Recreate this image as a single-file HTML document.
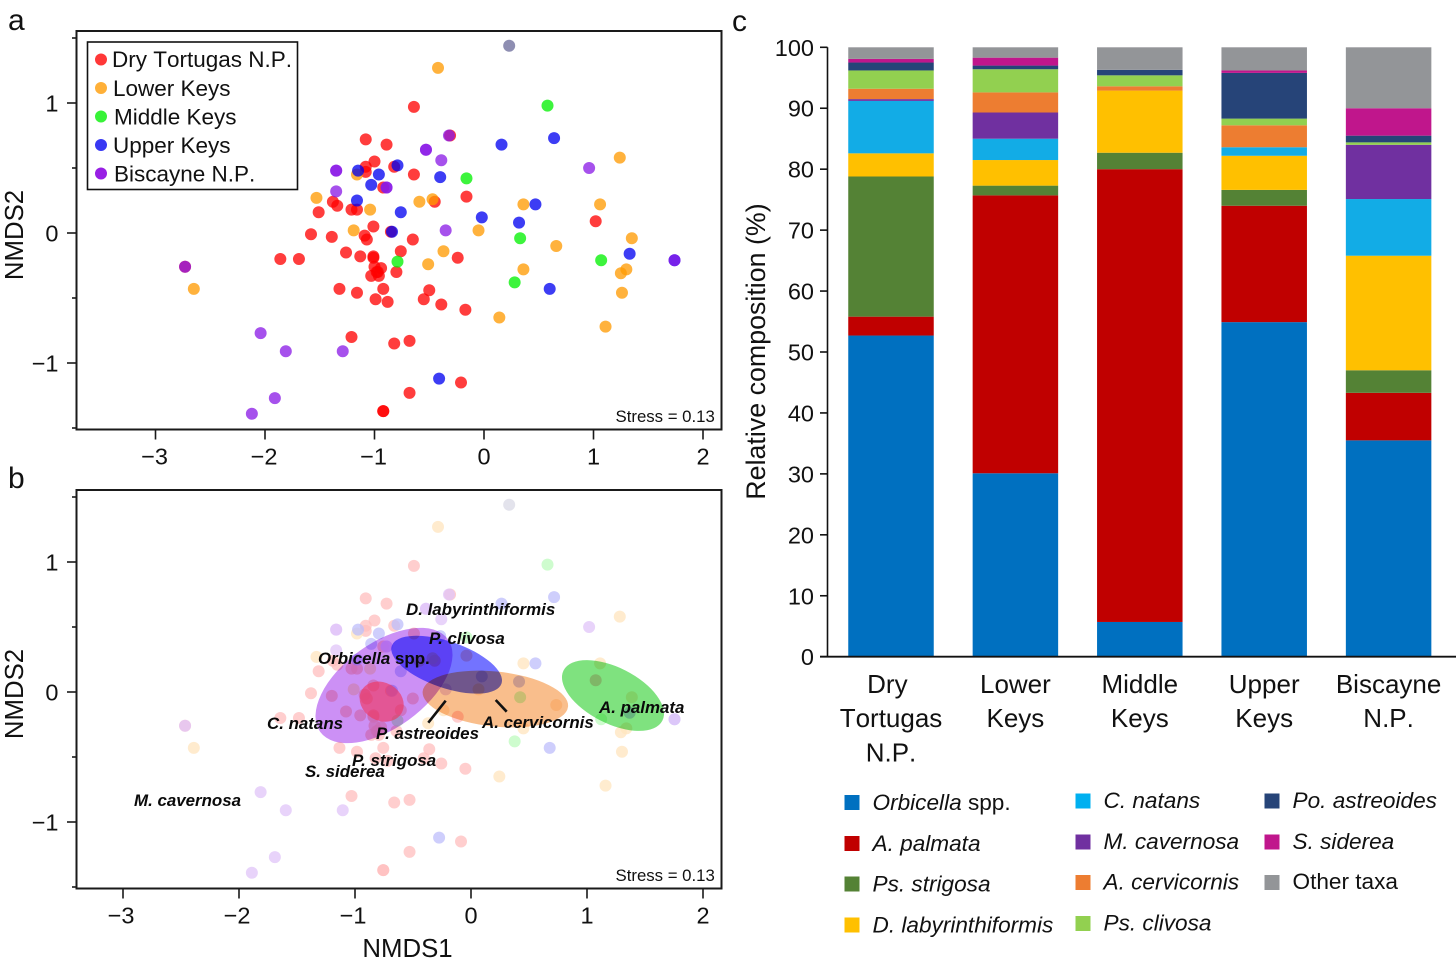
<!DOCTYPE html>
<html lang="en">
<head>
<meta charset="utf-8">
<title>Coral community composition across Florida reef regions</title>
<style>
  html, body { margin: 0; padding: 0; background: #fff; }
  svg { display: block; font-family: "Liberation Sans", Arial, sans-serif; fill: #111; font-kerning: none; }
  .tick { font-size: 23.5px; }
  .title { font-size: 25.8px; }
  .panel { font-size: 30px; }
  .stress { font-size: 16.8px; }
  .sp { font-size: 16.9px; font-weight: bold; font-style: italic; fill: #0a0a0a; font-kerning: normal; }
  .lega { font-size: 22.5px; }
  .legc { font-size: 22.6px; font-style: italic; }
  .cat { font-size: 26px; text-anchor: middle; }
  .up { font-style: normal; }
</style>
</head>
<body>
<svg id="figure" width="1456" height="966" viewBox="0 0 1456 966" xmlns="http://www.w3.org/2000/svg">
  <rect width="1456" height="966" fill="#fff"/>

  <text class="panel" x="8" y="30">a</text>
  <text class="panel" x="8" y="488">b</text>
  <text class="panel" x="732" y="31">c</text>

  <g id="panel-a"></g>
  <g id="panel-b"></g>
  <g id="panel-c"></g>

  <text class="title" transform="translate(23 235) rotate(-90)" text-anchor="middle">NMDS2</text>
  <text class="title" transform="translate(23 694) rotate(-90)" text-anchor="middle">NMDS2</text>
  <text class="title" x="407.5" y="957" text-anchor="middle">NMDS1</text>
  <text class="title" style="font-size:26.8px" transform="translate(765 351.5) rotate(-90)" text-anchor="middle">Relative composition (%)</text>

  <text class="stress" x="615.5" y="422">Stress = 0.13</text>
  <text class="stress" x="615.5" y="881">Stress = 0.13</text>

  <g>
    <rect x="87.5" y="42" width="210" height="147.5" fill="#fff" stroke="#111" stroke-width="1.6"/>
    <g><circle cx="101" cy="59.5" r="6" fill="#ff0000" fill-opacity=".78"/><text class="lega" x="112" y="67">Dry Tortugas N.P.</text></g>
    <g><circle cx="101" cy="88" r="6" fill="#ff9a00" fill-opacity=".78"/><text class="lega" x="113" y="96">Lower Keys</text></g>
    <g><circle cx="101" cy="116.5" r="6" fill="#00f000" fill-opacity=".78"/><text class="lega" x="114" y="124.5">Middle Keys</text></g>
    <g><circle cx="101" cy="145" r="6" fill="#0000f0" fill-opacity=".78"/><text class="lega" x="113" y="153">Upper Keys</text></g>
    <g><circle cx="101" cy="173.5" r="6" fill="#8a00e0" fill-opacity=".88"/><text class="lega" x="114" y="181.5">Biscayne N.P.</text></g>
  </g>

  <g>
    <line x1="445.7" y1="700.7" x2="428.3" y2="722.7" stroke="#111" stroke-width="2.6"/>
    <line x1="495.7" y1="700" x2="506.7" y2="711.7" stroke="#111" stroke-width="2.6"/>
    <text class="sp" x="406" y="615">D. labyrinthiformis</text>
    <text class="sp" x="429" y="644">P. clivosa</text>
    <text class="sp" x="318" y="664">Orbicella <tspan class="up">spp.</tspan></text>
    <text class="sp" x="267" y="729">C. natans</text>
    <text class="sp" x="376" y="739">P. astreoides</text>
    <text class="sp" x="482" y="728">A. cervicornis</text>
    <text class="sp" x="599" y="713">A. palmata</text>
    <text class="sp" x="352" y="766">P. strigosa</text>
    <text class="sp" x="305" y="777">S. siderea</text>
    <text class="sp" x="134" y="806">M. cavernosa</text>
  </g>

  <g>
    <g><rect x="844.5" y="795" width="15" height="15" fill="#0070c0"/><text class="legc" x="872.5" y="810">Orbicella <tspan class="up">spp.</tspan></text></g>
    <g><rect x="844.5" y="836" width="15" height="15" fill="#c00000"/><text class="legc" x="872.5" y="851">A. palmata</text></g>
    <g><rect x="844.5" y="876.5" width="15" height="15" fill="#548235"/><text class="legc" x="872.5" y="891.5">Ps. strigosa</text></g>
    <g><rect x="844.5" y="917.5" width="15" height="15" fill="#ffc000"/><text class="legc" x="872.5" y="932.5">D. labyrinthiformis</text></g>
    <g><rect x="1075.5" y="793.5" width="15" height="15" fill="#00b0f0"/><text class="legc" x="1103.5" y="808">C. natans</text></g>
    <g><rect x="1075.5" y="834.5" width="15" height="15" fill="#7030a0"/><text class="legc" x="1103.5" y="849">M. cavernosa</text></g>
    <g><rect x="1075.5" y="875" width="15" height="15" fill="#ed7d31"/><text class="legc" x="1103.5" y="889.5">A. cervicornis</text></g>
    <g><rect x="1075.5" y="916" width="15" height="15" fill="#92d050"/><text class="legc" x="1103.5" y="930.5">Ps. clivosa</text></g>
    <g><rect x="1264.5" y="793.5" width="15" height="15" fill="#264478"/><text class="legc" x="1292.5" y="808">Po. astreoides</text></g>
    <g><rect x="1264.5" y="834.5" width="15" height="15" fill="#c0168c"/><text class="legc" x="1292.5" y="849">S. siderea</text></g>
    <g><rect x="1264.5" y="875" width="15" height="15" fill="#939598"/><text class="legc up" x="1292.5" y="889">Other taxa</text></g>
  </g>
</svg>

<script>
// ---------- Ordination scores (NMDS1, NMDS2) ----------
const dryTortugasX = [-1.08,-0.89,-1.00,-1.08,-1.08,-0.82,-0.92,-1.38,-1.34,-1.51,-1.21,-1.16,-1.01,-1.58,-1.39,-1.09,-1.07,-0.85,-0.64,-0.31,-0.64,-0.16,-0.45,1.02,-0.65,-0.76,-0.24,-1.26,-1.13,-1.01,-1.01,-1.86,-1.69,-0.80,-1.00,-0.94,-0.98,-0.97,-1.03,-0.96,-1.32,-1.16,-0.92,-0.99,-0.88,-0.50,-0.55,-0.39,-0.17,-1.21,-0.82,-0.68,-0.21,-0.68,-0.92,-0.92,-2.73];
const dryTortugasY = [0.72,0.68,0.55,0.51,0.47,0.51,0.35,0.24,0.21,0.16,0.18,0.18,0.05,-0.01,-0.03,-0.02,-0.05,0.01,0.97,0.75,0.45,0.28,0.24,0.09,-0.05,-0.14,-0.19,-0.15,-0.18,-0.18,-0.19,-0.20,-0.20,-0.30,-0.26,-0.27,-0.30,-0.30,-0.33,-0.33,-0.43,-0.46,-0.43,-0.51,-0.53,-0.44,-0.51,-0.55,-0.59,-0.80,-0.85,-0.83,-1.15,-1.23,-1.37,-1.37,-0.26];
const lowerKeysX = [-0.42,-1.53,-1.16,-1.04,-1.19,1.24,-0.59,-0.47,0.36,1.06,-0.05,1.35,0.66,-0.37,-0.51,0.36,1.30,1.25,1.26,0.14,1.11,-2.65];
const lowerKeysY = [1.27,0.27,0.45,0.18,0.02,0.58,0.24,0.26,0.22,0.22,0.02,-0.04,-0.10,-0.14,-0.24,-0.28,-0.28,-0.31,-0.46,-0.65,-0.72,-0.43];
const middleKeysX = [0.58,-0.16,0.33,1.07,-0.79,0.28];
const middleKeysY = [0.98,0.42,-0.04,-0.21,-0.22,-0.38];
const upperKeysX = [-1.15,-0.96,-1.03,-1.16,-0.76,-0.79,-0.84,0.16,0.64,-0.40,0.47,-0.02,0.32,1.33,0.60,-0.41,1.74];
const upperKeysY = [0.48,0.45,0.37,0.25,0.16,0.52,0.01,0.68,0.73,0.43,0.22,0.12,0.08,-0.16,-0.43,-1.12,-0.21];
const biscayneX = [-1.35,-1.35,-1.35,-0.89,-0.89,-0.53,-0.53,-0.39,-0.32,0.96,-0.35,-2.73,-2.04,-1.81,-1.29,-1.91,-2.12,1.74];
const biscayneY = [0.48,0.48,0.32,0.35,0.35,0.64,0.64,0.56,0.75,0.50,0.02,-0.26,-0.77,-0.91,-0.91,-1.27,-1.39,-0.21];
const mixedSiteX = [0.23];
const mixedSiteY = [1.44];

const siteSeriesNames = ['dry-tortugas','lower-keys','middle-keys','upper-keys','biscayne','mixed'];
const siteSeriesX = [dryTortugasX, lowerKeysX, middleKeysX, upperKeysX, biscayneX, mixedSiteX];
const siteSeriesY = [dryTortugasY, lowerKeysY, middleKeysY, upperKeysY, biscayneY, mixedSiteY];
const siteSeriesColors = ['#ff0000','#ff9a00','#00f000','#0000f0','#8a1ae6','#7a7aa4'];

// ---------- Axis tick values ----------
const xTickValues = [-3,-2,-1,0,1,2];
const xTickLabels = ['\u22123','\u22122','\u22121','0','1','2'];
const yTickValues = [1,0,-1];
const yTickLabels = ['1','0','\u22121'];
const yMinorValues = [1.5,0.5,-0.5,-1.5];

// ---------- Species ellipses (panel b, NMDS units) ----------
const ellipseNames = ['a-cervicornis','a-palmata','orbicella','c-natans','p-clivosa'];
const ellipseCentreX = [0.21,1.224,-0.75,-0.77,-0.21];
const ellipseCentreY = [-0.054,-0.027,0.05,-0.074,0.21];
const ellipseMajor = [0.63,0.478,0.68,0.198,0.5];
const ellipseMinor = [0.237,0.241,0.365,0.164,0.2];
const ellipseAngle = [6,27,-36,30,19];
const ellipseColors = ['#f9be8c','#7fe27f','#cc90f5','#f0325a','#7373ff'];
const ellipseStyles = ['mix-blend-mode:multiply','mix-blend-mode:multiply','mix-blend-mode:multiply','opacity:.62','mix-blend-mode:multiply'];

// ---------- Stacked bar data (panel c, percent) ----------
const regionLines = [['Dry\u00a0','Tortugas','N.P.'],['Lower','Keys'],['Middle','Keys'],['Upper','Keys'],['Biscayne','N.P.']];
const taxaNames = ['orbicella','a-palmata','ps-strigosa','d-labyrinthiformis','c-natans','m-cavernosa','a-cervicornis','ps-clivosa','po-astreoides','s-siderea','other-taxa'];
const taxaColors = ['#0070c0','#c00000','#548235','#ffc000','#12ace6','#7030a0','#ed7d31','#92d050','#264478','#c0168c','#939598'];
const compDryTortugas = [52.7,3.1,23.0,3.8,8.6,0.3,1.7,3.0,1.3,0.6,1.9];
const compLowerKeys = [30.1,45.6,1.6,4.2,3.5,4.3,3.3,3.8,0.6,1.3,1.7];
const compMiddleKeys = [5.7,74.3,2.7,10.2,0,0,0.7,1.8,0.9,0,3.7];
const compUpperKeys = [54.9,19.1,2.6,5.6,1.4,0,3.6,1.1,7.5,0.4,3.8];
const compBiscayne = [35.5,7.8,3.7,18.8,9.3,8.9,0,0.4,1.1,4.5,10.0];
const compositionByRegion = [compDryTortugas, compLowerKeys, compMiddleKeys, compUpperKeys, compBiscayne];
const percentTicks = [0,10,20,30,40,50,60,70,80,90,100];

// ---------- Scales ----------
const xScaleA = v => 484 + v * 109.5;
const yScaleA = v => 233 - v * 130;
const xScaleB = v => 471 + v * 116;
const yScaleB = v => 692 - v * 130;
const yScaleC = v => 656.7 - v * 6.094;
const regionScale = i => 891 + i * 124.4;
const BAR_WIDTH = 85.5;

const SVG_NS = 'http://www.w3.org/2000/svg';
function make(tag, parent, attrs) {
  const el = document.createElementNS(SVG_NS, tag);
  for (const k in attrs) el.setAttribute(k, attrs[k]);
  parent.appendChild(el);
  return el;
}

function drawAxes(panel, prefix, xScale, yScale, top, bottom, negLabelShift) {
  const frame = make('rect', panel, {x:76.5, y:top, width:645, height:bottom-top, fill:'none', stroke:'#1a1a1a', 'stroke-width':2});
  
  
  xTickValues.forEach((v, i) => {
    const t = make('line', panel, {x1:xScale(v), x2:xScale(v), y1:bottom, y2:bottom+10, stroke:'#1a1a1a', 'stroke-width':1.6});
    
    
    const l = make('text', panel, {x:xScale(v) + (v<0?negLabelShift:0), y:bottom+35, 'text-anchor':'middle', class:'tick'});
    
    
    l.textContent = xTickLabels[i];
  });
  yTickValues.forEach((v, i) => {
    const t = make('line', panel, {x1:67, x2:76.5, y1:yScale(v), y2:yScale(v), stroke:'#1a1a1a', 'stroke-width':1.6});
    
    
    const l = make('text', panel, {x:58.5, y:yScale(v)+8.5, 'text-anchor':'end', class:'tick'});
    
    
    l.textContent = yTickLabels[i];
  });
  yMinorValues.forEach(v => {
    const t = make('line', panel, {x1:72, x2:76.5, y1:yScale(v), y2:yScale(v), stroke:'#1a1a1a', 'stroke-width':1.6});
    
    
  });
}

function drawSites(parent, yScale, alpha) {
  // Panels a and b plot the same site scores at the same horizontal position.
  siteSeriesNames.forEach((name, s) => {
    const isMixed = name === 'mixed';
    siteSeriesX[s].forEach((x, i) => {
      const c = make('circle', parent, {cx:xScaleA(x), cy:yScale(siteSeriesY[s][i]), r:6, fill:siteSeriesColors[s], 'fill-opacity':isMixed ? 0.85 : alpha});
      
      
    });
  });
}

// Panel a
const panelA = document.getElementById('panel-a');
drawSites(panelA, yScaleA, 0.76);
drawAxes(panelA, 'panel-a', xScaleA, yScaleA, 31, 429.5, -1);

// Panel b
const panelB = document.getElementById('panel-b');
const fadedLayer = make('g', panelB, {opacity:0.25});


drawSites(fadedLayer, yScaleB, 0.76);
ellipseNames.forEach((name, i) => {
  const cx = xScaleB(ellipseCentreX[i]);
  const cy = yScaleB(ellipseCentreY[i]);
  const e = make('ellipse', panelB, {cx:cx, cy:cy, rx:ellipseMajor[i]*116, ry:ellipseMinor[i]*116, fill:ellipseColors[i], transform:'rotate(' + ellipseAngle[i] + ' ' + cx + ' ' + cy + ')', style:ellipseStyles[i]});
  
  
});
drawAxes(panelB, 'panel-b', xScaleB, yScaleB, 490, 888.5, -2);

// Panel c
const panelC = document.getElementById('panel-c');
compositionByRegion.forEach((values, r) => {
  let cumulative = 0;
  values.forEach((v, t) => {
    if (v > 0) {
      const b = make('rect', panelC, {x:regionScale(r)-BAR_WIDTH/2, y:yScaleC(cumulative+v), width:BAR_WIDTH, height:yScaleC(cumulative)-yScaleC(cumulative+v), fill:taxaColors[t]});
      
      
    }
    cumulative += v;
  });
  regionLines[r].forEach((line, k) => {
    const l = make('text', panelC, {x:regionScale(r), y:693+k*34.2, class:'cat'});
    
    
    l.textContent = line;
  });
});
const yAxisC = make('line', panelC, {x1:827.5, x2:827.5, y1:yScaleC(100), y2:yScaleC(0), stroke:'#111', 'stroke-width':1.6});


const xAxisC = make('line', panelC, {x1:820, x2:1456, y1:yScaleC(0), y2:yScaleC(0), stroke:'#111', 'stroke-width':1.8});


percentTicks.forEach(v => {
  const t = make('line', panelC, {x1:820, x2:827.5, y1:yScaleC(v), y2:yScaleC(v), stroke:'#111', 'stroke-width':1.6});
  
  
  const l = make('text', panelC, {x:814, y:yScaleC(v)+8.5, 'text-anchor':'end', class:'tick'});
  
  
  l.textContent = String(v);
});
</script>
</body>
</html>
